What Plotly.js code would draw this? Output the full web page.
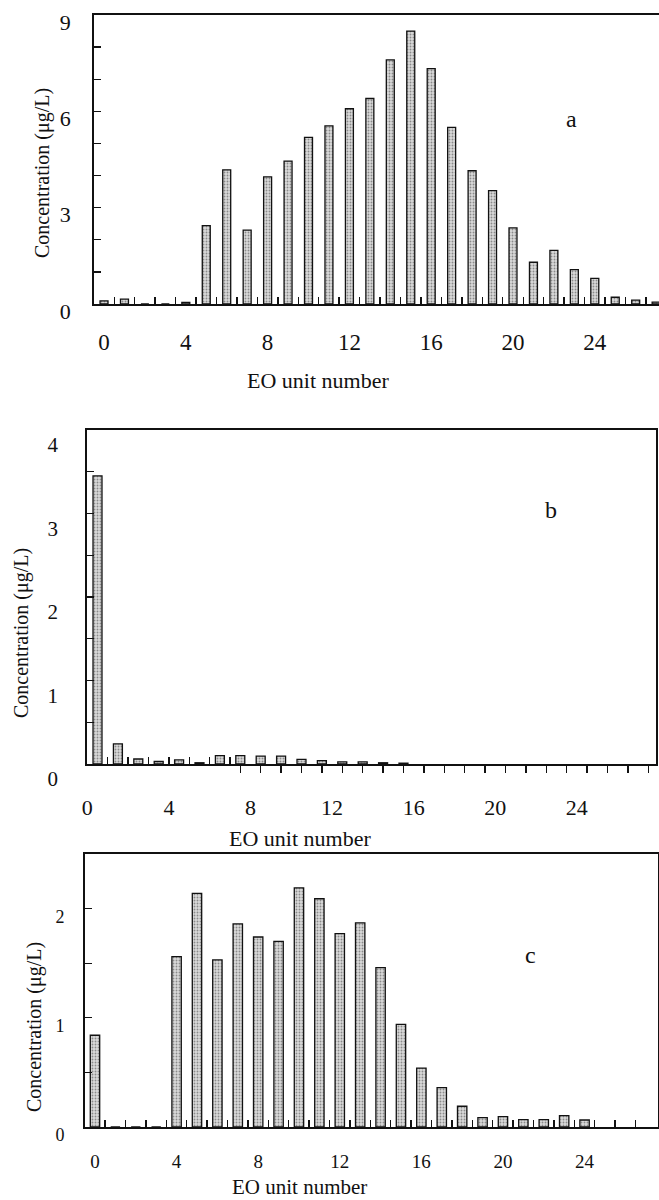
<!DOCTYPE html>
<html>
<head>
<meta charset="utf-8">
<script src="https://cdn.plot.ly/plotly-3.0.1.min.js"></script>
<style>html,body{margin:0;padding:0;background:#fff;}#chart{width:659px;height:1200px;}</style>
</head>
<body>
<div id="chart"></div>
<script>
// ---- data ----
const eoA = [0,1,2,3,4,5,6,7,8,9,10,11,12,13,14,15,16,17,18,19,20,21,22,23,24,25,26,27];
const concA = [0.10,0.15,0,0,0.05,2.44,4.18,2.30,3.96,4.45,5.19,5.55,6.08,6.40,7.60,8.50,7.33,5.50,4.15,3.53,2.37,1.30,1.67,1.07,0.80,0.21,0.12,0.06];

const eoB = [0,1,2,3,4,5,6,7,8,9,10,11,12,13,14,15];
const concB = [3.45,0.24,0.06,0.03,0.05,0.015,0.10,0.10,0.095,0.095,0.055,0.04,0.025,0.025,0.015,0.01];

const eoC = [0,1,2,3,4,5,6,7,8,9,10,11,12,13,14,15,16,17,18,19,20,21,22,23,24];
const concC = [0.84,0,0,0,1.56,2.14,1.53,1.86,1.74,1.70,2.19,2.09,1.77,1.87,1.46,0.94,0.54,0.36,0.19,0.086,0.095,0.067,0.067,0.104,0.064];

const xTickLabels = [0,4,8,12,16,20,24];
const yTicksA = [0,3,6,9];
const yTicksB = [0,1,2,3,4];
const yTicksC = [0,1,2];
const panelLetters = ['a','b','c'];
const xTitle = 'EO unit number';
const yTitle = 'Concentration (μg/L)';

// ---- helpers ----
const W = 659, H = 1200;
const px = v => v / W;
const py = v => 1 - v / H;
const range = (a, b, s) => { const r = []; for (let v = a; v <= b + 1e-9; v += s) r.push(+v.toFixed(3)); return r; };
const FONT = 'Liberation Serif, Times New Roman, serif';
const barStyle = () => ({
  color: '#d0d0d0',
  line: {color: '#111', width: 1.3},
  pattern: {shape: '.', fgcolor: '#8a8a8a', bgcolor: '#dadada', size: 3, solidity: 0.3}
});

const traces = [
  {type: 'bar', x: eoA, y: concA, width: 0.39, marker: barStyle(), xaxis: 'x', yaxis: 'y', hoverinfo: 'skip'},
  {type: 'bar', x: eoB, y: concB, width: 0.44, marker: barStyle(), xaxis: 'x2', yaxis: 'y2', hoverinfo: 'skip'},
  {type: 'bar', x: eoC, y: concC, width: 0.46, marker: barStyle(), xaxis: 'x3', yaxis: 'y3', hoverinfo: 'skip'},
  {type: 'scatter', x: [], y: [], xaxis: 'x4', yaxis: 'y2', showlegend: false, hoverinfo: 'skip'}
];

const baseAxis = {
  showline: true, linecolor: '#111', linewidth: 1.8,
  showgrid: false, zeroline: false, fixedrange: true, autorange: false,
  tickcolor: '#111', tickwidth: 1.4,
};

const ann = (text, x, y, size, angle) => ({
  text: text, x: px(x), y: py(y), xref: 'paper', yref: 'paper',
  xanchor: 'center', yanchor: 'middle', showarrow: false,
  textangle: angle || 0, font: {size: size, family: FONT, color: '#111'}
});

const layout = {
  width: W, height: H,
  margin: {l: 0, r: 0, t: 0, b: 0},
  paper_bgcolor: '#fff', plot_bgcolor: '#fff',
  showlegend: false, bargap: 0,
  font: {family: FONT, color: '#111'},
  // panel a
  xaxis: Object.assign({}, baseAxis, {
    domain: [px(94), 1], range: [-0.49, 27.14], anchor: 'y', mirror: true,
    tickmode: 'array', tickvals: xTickLabels, ticktext: xTickLabels.map(String),
    ticks: 'inside', ticklen: 0, tickfont: {size: 23, family: FONT}, ticklabelstandoff: 17,
    minor: {tickmode: 'array', tickvals: range(0.5, 26.5, 1), ticks: 'inside', ticklen: 7, tickwidth: 1.4, tickcolor: '#111'}
  }),
  yaxis: Object.assign({}, baseAxis, {
    domain: [py(304), py(15)], range: [0, 9], anchor: 'x', mirror: false,
    tickmode: 'array', tickvals: yTicksA, ticktext: yTicksA.map(String),
    ticks: 'inside', ticklen: 7, tickfont: {size: 22, family: FONT}, ticklabelstandoff: 17, ticklabelshift: 7,
    minor: {tickmode: 'array', tickvals: [1,2,4,5,7,8], ticks: 'inside', ticklen: 7, tickwidth: 1.4, tickcolor: '#111'}
  }),
  // panel b
  xaxis2: Object.assign({}, baseAxis, {
    domain: [px(87), px(656)], range: [-0.515, 27.38], anchor: 'y2', mirror: true,
    tickmode: 'array', tickvals: xTickLabels.map(v => v - 0.5), ticktext: xTickLabels.map(String),
    ticks: 'inside', ticklen: 0, tickfont: {size: 22, family: FONT}, ticklabelstandoff: 23,
    minor: {tickmode: 'array', tickvals: range(7, 27, 1), ticks: 'outside', ticklen: 7, tickwidth: 1.4, tickcolor: '#111'}
  }),
  xaxis4: {
    overlaying: 'x2', anchor: 'y2', side: 'bottom', range: [-0.515, 27.38], autorange: false,
    showline: false, showgrid: false, zeroline: false, fixedrange: true,
    tickmode: 'array', tickvals: range(0.5, 6.5, 1), ticks: 'inside', ticklen: 7, tickwidth: 1.4, tickcolor: '#111',
    showticklabels: false
  },
  yaxis2: Object.assign({}, baseAxis, {
    domain: [py(764), py(430)], range: [0, 4], anchor: 'x2', mirror: true,
    tickmode: 'array', tickvals: yTicksB, ticktext: yTicksB.map(String),
    ticks: 'inside', ticklen: 7, tickfont: {size: 21, family: FONT}, ticklabelstandoff: 23, ticklabelshift: 15,
    minor: {tickmode: 'array', tickvals: [0.5,1.5,2.5,3.5], ticks: 'inside', ticklen: 7, tickwidth: 1.4, tickcolor: '#111'}
  }),
  // panel c
  xaxis3: Object.assign({}, baseAxis, {
    domain: [px(85), px(658)], range: [-0.49, 27.6], anchor: 'y3', mirror: true,
    tickmode: 'array', tickvals: xTickLabels, ticktext: xTickLabels.map(String),
    ticks: 'inside', ticklen: 0, tickfont: {size: 19, family: FONT}, ticklabelstandoff: 16,
    minor: {tickmode: 'array', tickvals: range(0.5, 26.5, 1), ticks: 'inside', ticklen: 7, tickwidth: 1.4, tickcolor: '#111'}
  }),
  yaxis3: Object.assign({}, baseAxis, {
    domain: [py(1127), py(854)], range: [0, 2.5], anchor: 'x3', mirror: true,
    tickmode: 'array', tickvals: yTicksC, ticktext: yTicksC.map(String),
    ticks: 'inside', ticklen: 7, tickfont: {size: 18, family: FONT}, ticklabelstandoff: 15, ticklabelshift: 8,
    minor: {tickmode: 'array', tickvals: [0.5,1.5], ticks: 'inside', ticklen: 7, tickwidth: 1.4, tickcolor: '#111'}
  }),
  annotations: [
    ann(xTitle, 318, 380, 22),
    ann(xTitle, 300, 838, 22),
    ann(xTitle, 299, 1187, 21),
    ann(yTitle, 42, 173, 20, -90),
    ann(yTitle, 21, 633, 20, -90),
    ann(yTitle, 34, 1027, 20, -90),
    ann(panelLetters[0], 571, 119, 24),
    ann(panelLetters[1], 551, 510, 24),
    ann(panelLetters[2], 530, 955, 24)
  ]
};

Plotly.newPlot('chart', traces, layout, {staticPlot: true, displayModeBar: false});
</script>
</body>
</html>
